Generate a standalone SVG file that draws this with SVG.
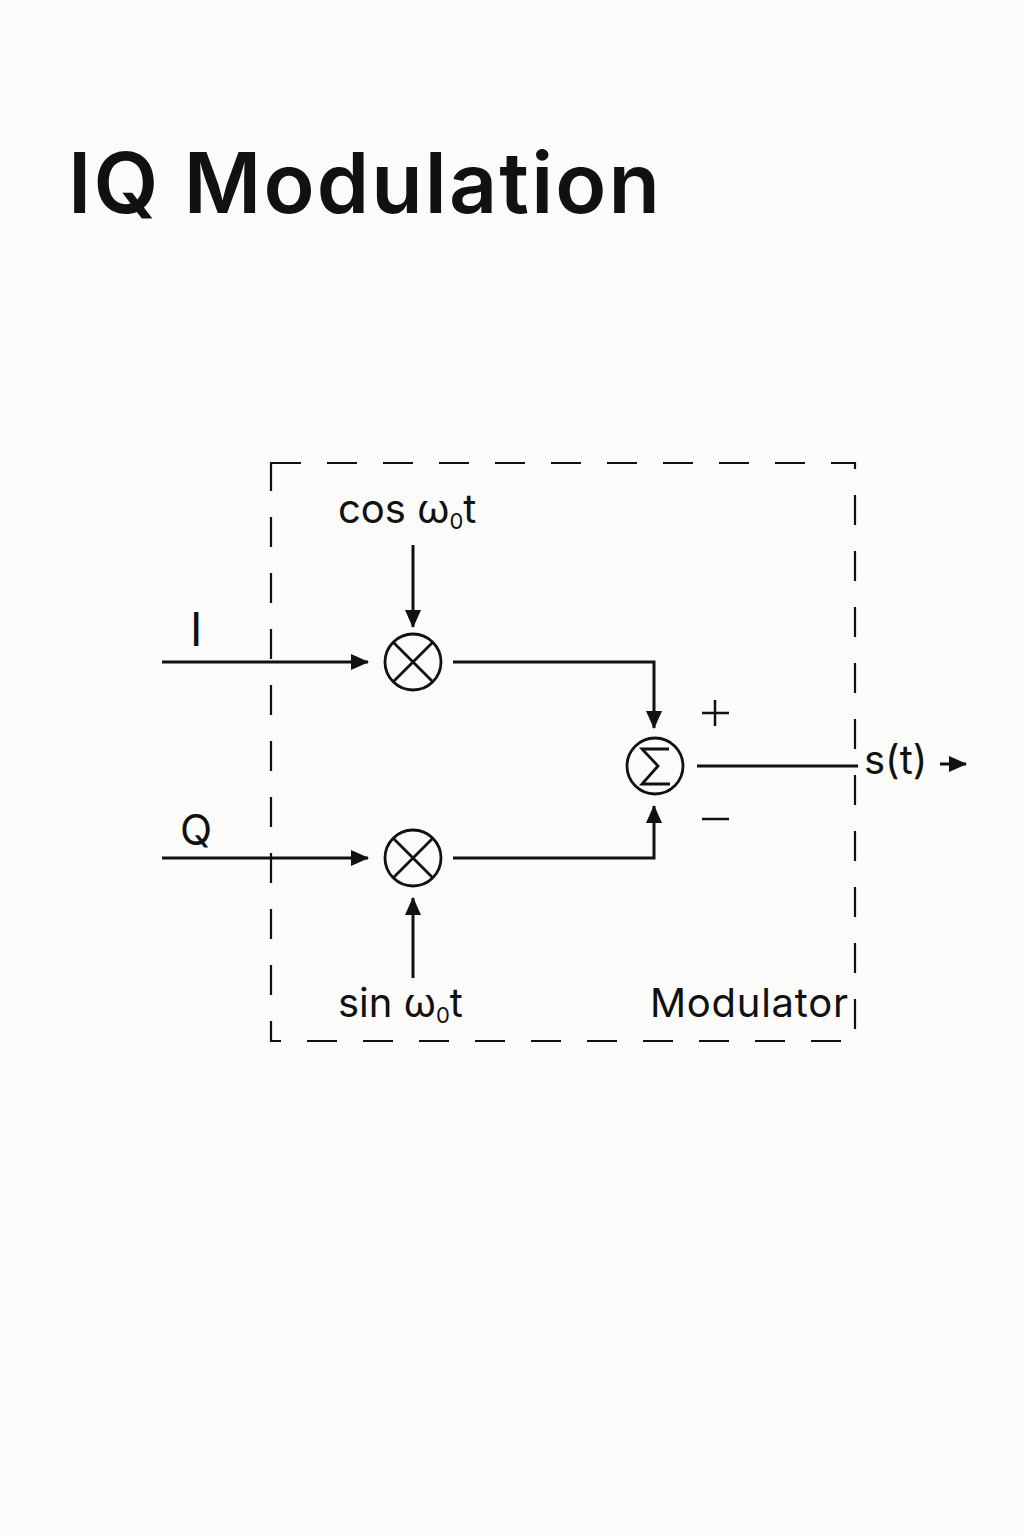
<svg xmlns="http://www.w3.org/2000/svg" width="1024" height="1536" viewBox="0 0 1024 1536">
<style>
text{font-family:Inter,"Liberation Sans",sans-serif;fill:#111}
.ln{stroke:#111;stroke-width:3;fill:none}
.c{stroke:#111;stroke-width:2.8;fill:none}
</style>
<defs>
<marker id="b" markerWidth="18" markerHeight="18" refX="17" refY="9" orient="auto" markerUnits="userSpaceOnUse" viewBox="0 0 18 18"><path d="M0,1 L18,9 L0,17z" fill="#111"/></marker></defs>
<rect width="1024" height="1536" fill="#fbfbf9"/>
<text x="68" y="213" font-size="84" font-weight="600" textLength="592">IQ Modulation</text>
<g id="box"><rect x="271" y="463" width="584" height="578" fill="none" stroke="#111" stroke-width="2.2" stroke-dasharray="30,26"/>
<text x="650" y="1017" font-size="40" textLength="198">Modulator</text></g>
<g id="mulI"><circle cx="413" cy="662" r="28" class="c"/><path d="M393,642 L433,682 M433,642 L393,682" class="c"/></g>
<g id="mulQ"><circle cx="413" cy="858" r="28" class="c"/><path d="M393,838 L433,878 M433,838 L393,878" class="c"/></g>
<g id="sum"><circle cx="655" cy="766" r="28" class="c"/><path d="M669,749 L642,749 L658,766 L642,784 L670,784" class="c"/></g>
<g id="labels">
<text x="190" y="646" font-size="46">I</text>
<text x="180" y="845" font-size="42">Q</text>
<text x="338" y="523" font-size="40">cos  ω<tspan font-size="22" dy="6">0</tspan><tspan dy="-6">t</tspan></text>
<text x="338" y="1017" font-size="40">sin  ω<tspan font-size="22" dy="6">0</tspan><tspan dy="-6">t</tspan></text>
<path d="M715,700 V726 M702,713 H729 M702,819 H729" stroke="#111" stroke-width="2.5"/>
<text x="864" y="774" font-size="40">s(t)</text>
</g>
<g id="connectors">
<path d="M162,662 L368,662" class="ln" marker-end="url(#b)"/>
<path d="M162,858 L368,858" class="ln" marker-end="url(#b)"/>
<path d="M413,545 L413,627" class="ln" marker-end="url(#b)"/>
<path d="M413,978 L413,898" class="ln" marker-end="url(#b)"/>
<path d="M453,662 L654,662 L654,728" class="ln" marker-end="url(#b)"/>
<path d="M453,858 L654,858 L654,806" class="ln" marker-end="url(#b)"/>
<path d="M697,766 L858,766" class="ln"/>
<path d="M940,764 L966,764" class="ln" marker-end="url(#b)"/>
</g>
</svg>
